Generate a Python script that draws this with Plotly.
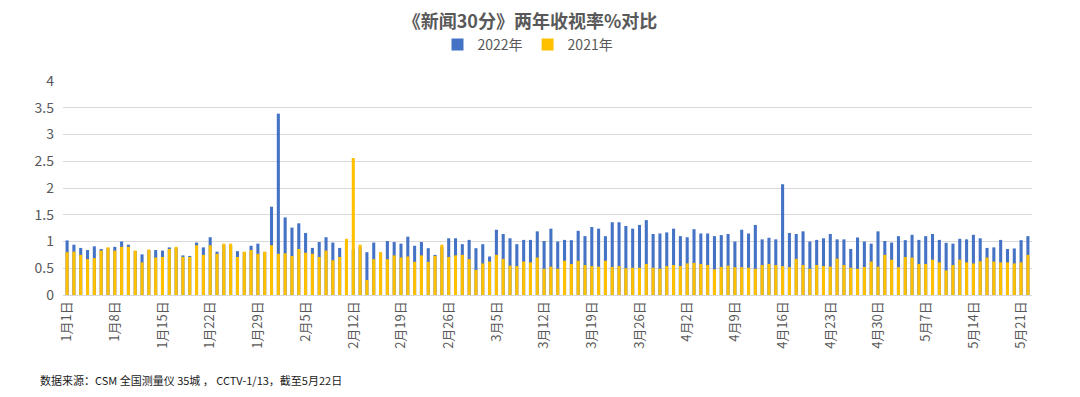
import pandas as pd
import plotly.graph_objects as go

# Daily ratings, 2022-01-01 .. 2022-05-22 (142 days)
ratings_2022 = [
    1.02, 0.94, 0.88, 0.84, 0.91, 0.86, 0.88, 0.90, 1.00, 0.94,
    0.82, 0.76, 0.84, 0.84, 0.83, 0.89, 0.88, 0.74, 0.73, 0.98,
    0.89, 1.08, 0.81, 0.94, 0.93, 0.82, 0.80, 0.92, 0.96, 0.80,
    1.65, 3.39, 1.45, 1.26, 1.34, 1.16, 0.88, 0.99, 1.08, 0.98,
    0.88, 1.00, 0.85, 0.90, 0.80, 0.98, 0.79, 1.01, 0.99, 0.96,
    1.09, 0.92, 0.99, 0.875, 0.75, 0.90, 1.06, 1.06, 0.95, 1.03,
    0.875, 0.95, 0.72, 1.22, 1.14, 1.06, 0.95, 1.03, 1.03, 1.19,
    1.01, 1.24, 1.00, 1.03, 1.025, 1.20, 1.10, 1.27, 1.24, 1.10,
    1.36, 1.36, 1.29, 1.24, 1.31, 1.40, 1.14, 1.15, 1.17, 1.24,
    1.10, 1.08, 1.23, 1.15, 1.15, 1.10, 1.12, 1.14, 1.00, 1.22,
    1.15, 1.31, 1.04, 1.07, 1.04, 2.07, 1.16, 1.14, 1.19, 1.00,
    1.03, 1.06, 1.14, 1.04, 1.04, 0.86, 1.075, 1.00, 0.96, 1.19,
    1.01, 0.98, 1.10, 1.025, 1.125, 1.03, 1.10, 1.14, 1.03, 0.975,
    0.96, 1.05, 1.04, 1.125, 1.06, 0.88, 0.89, 1.03, 0.86, 0.87,
    1.025, 1.10,
]

ratings_2021 = [
    0.80, 0.81, 0.75, 0.67, 0.69, 0.83, 0.89, 0.83, 0.90, 0.90,
    0.83, 0.61, 0.85, 0.70, 0.71, 0.86, 0.90, 0.71, 0.71, 0.93,
    0.75, 0.93, 0.77, 0.96, 0.96, 0.71, 0.81, 0.84, 0.77, 0.81,
    0.93, 0.77, 0.78, 0.73, 0.86, 0.79, 0.77, 0.71, 0.83, 0.65,
    0.71, 1.05, 2.56, 0.94, 0.28, 0.67, 0.80, 0.67, 0.74, 0.70,
    0.72, 0.62, 0.74, 0.62, 0.73, 0.94, 0.71, 0.74, 0.75, 0.67,
    0.47, 0.59, 0.625, 0.75, 0.675, 0.55, 0.54, 0.625, 0.61, 0.70,
    0.49, 0.53, 0.49, 0.64, 0.58, 0.64, 0.56, 0.54, 0.53, 0.64,
    0.525, 0.54, 0.50, 0.51, 0.51, 0.58, 0.51, 0.49, 0.54, 0.56,
    0.54, 0.59, 0.60, 0.58, 0.56, 0.48, 0.525, 0.55, 0.52, 0.52,
    0.51, 0.49, 0.56, 0.58, 0.56, 0.54, 0.52, 0.675, 0.56, 0.49,
    0.56, 0.54, 0.53, 0.68, 0.56, 0.51, 0.49, 0.525, 0.625, 0.53,
    0.75, 0.66, 0.52, 0.71, 0.70, 0.58, 0.58, 0.66, 0.61, 0.46,
    0.56, 0.66, 0.61, 0.59, 0.63, 0.70, 0.625, 0.61, 0.61, 0.59,
    0.61, 0.75,
]

dates = pd.date_range("2022-01-01", "2022-05-22", freq="D")
day_labels = [f"{d.month}月{d.day}日" for d in dates]

tick_labels = [
    "1月1日", "1月8日", "1月15日", "1月22日", "1月29日", "2月5日", "2月12日",
    "2月19日", "2月26日", "3月5日", "3月12日", "3月19日", "3月26日", "4月2日",
    "4月9日", "4月16日", "4月23日", "4月30日", "5月7日", "5月14日", "5月21日",
]

FONT = "Noto Sans CJK SC"
GRAY = "#595959"

# the page body adds an 8px offset; layout is expressed in figure coordinates
PL, PR, PT, PB = 55, 1024, 73, 287
PH = PB - PT
PW = PR - PL

fig = go.Figure()
fig.add_trace(go.Bar(x=day_labels, y=ratings_2022, name="2022年",
                     marker=dict(color="#4472C4", line=dict(width=0)), width=0.45))
fig.add_trace(go.Bar(x=day_labels, y=ratings_2021, name="2021年",
                     marker=dict(color="#FFC000", line=dict(width=0)), width=0.45))

fig.update_layout(
    width=1080, height=397,
    margin=dict(l=PL, r=1080 - PR, t=PT, b=397 - PB, autoexpand=False),
    paper_bgcolor="white", plot_bgcolor="white",
    barmode="overlay",
    font=dict(family=FONT, color=GRAY, size=13),
    title=dict(text="<b>《新闻30分》两年收视率%对比</b>",
               x=(530 - 8) / 1080, xanchor="center",
               xref="container", yref="container",
               y=1 - 14 / 397, yanchor="middle",
               font=dict(size=18, color=GRAY, family=FONT)),
    legend=dict(orientation="h", x=(528 - 8 - PL) / PW, xanchor="center",
                y=(PB - 37) / PH, yanchor="middle",
                font=dict(size=14, color=GRAY, family=FONT), traceorder="normal",
                itemwidth=30, bgcolor="rgba(0,0,0,0)"),
    showlegend=True,
)
fig.update_xaxes(
    type="category", categoryorder="array", categoryarray=day_labels,
    tickmode="array", tickvals=tick_labels, ticktext=tick_labels,
    tickangle=-90, tickfont=dict(size=13, color=GRAY, family=FONT),
    showgrid=False, showline=True, linecolor="#D9D9D9", linewidth=1,
    ticks="", range=[-0.6, len(day_labels) - 0.4],
)
fig.update_yaxes(
    range=[0, 4], tickvals=[0, 0.5, 1, 1.5, 2, 2.5, 3, 3.5, 4],
    ticktext=["0", "0.5", "1", "1.5", "2", "2.5", "3", "3.5", "4"],
    showgrid=True, gridcolor="#D9D9D9", gridwidth=1, zeroline=False,
    showline=False, tickfont=dict(size=14, color=GRAY, family=FONT), ticks="",
    ticklabelstandoff=8,
)
fig.add_annotation(
    text="数据来源：CSM 全国测量仪 35城 ， CCTV-1/13，截至5月22日",
    xref="paper", yref="paper", x=(30 - PL) / PW, y=(PB - 372) / PH,
    xanchor="left", yanchor="middle",
    showarrow=False, font=dict(size=11, color="#1a1a1a", family=FONT),
)

fig.write_html("out.html")
